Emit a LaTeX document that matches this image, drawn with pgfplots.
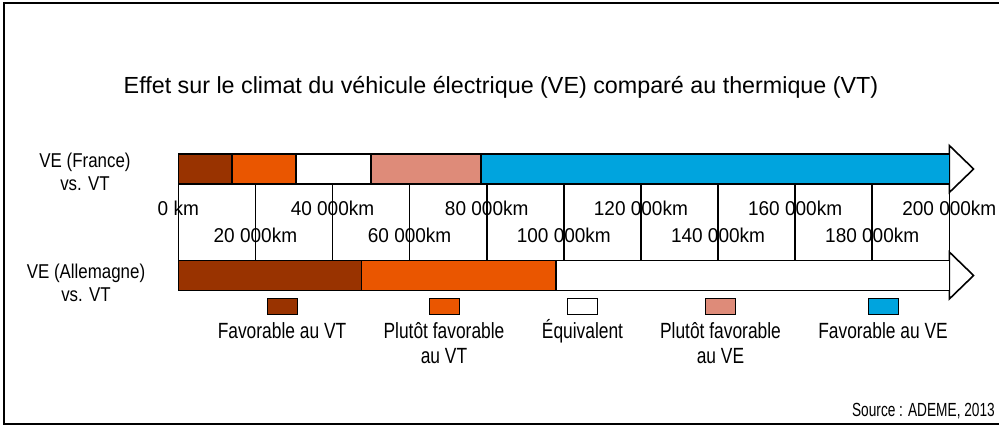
\documentclass[border=0pt]{standalone}
\usepackage{fontspec}
\setmainfont{Liberation Sans}
\newfontfamily\fTick{Liberation Sans}[FakeStretch=0.95]
\newfontfamily\fRow{Liberation Sans}[FakeStretch=0.845]
\newfontfamily\fLeg{Liberation Sans}[FakeStretch=0.79]
\newfontfamily\fSrc{Liberation Sans}[FakeStretch=0.72]
\usepackage{pgfplots}
\pgfplotsset{compat=1.18}
\definecolor{cBrown}{RGB}{153,51,0}
\definecolor{cOrange}{RGB}{234,86,0}
\definecolor{cPink}{RGB}{222,139,121}
\definecolor{cBlue}{RGB}{0,164,222}
\newcommand{\tickf}{\fTick\fontsize{20}{22}\selectfont}
\newcommand{\rowf}{\fRow\fontsize{20}{22}\selectfont}
\newcommand{\legf}{\fLeg\fontsize{22}{24}\selectfont}
\begin{document}
\begin{tikzpicture}[x=1pt,y=1pt]
\useasboundingbox (0,0) rectangle (999,427);
\draw[line width=2pt] (999,424) -- (3.5,424) -- (3.5,2.5) -- (999,2.5);
\node[font=\fontsize{23.3}{27}\selectfont, anchor=base] at (501,333) {Effet sur le climat du véhicule électrique (VE) comparé au thermique (VT)};
\begin{axis}[
  anchor=south west, at={(178.3pt,136.5pt)},
  x=3.855pt, y=1pt,
  xmin=0, xmax=200, ymin=136.5, ymax=273,
  clip=false,
  axis line style={draw=none},
  major tick length=0pt,
  ytick=\empty,
  xtick={0,20,...,200},
  xticklabels={0 km,\raisebox{-27pt}{20 000km},40 000km,\raisebox{-27pt}{60 000km},80 000km,\raisebox{-27pt}{100 000km},120 000km,\raisebox{-27pt}{140 000km},160 000km,\raisebox{-27pt}{180 000km},200 000km},
  xticklabel style={anchor=base, yshift=74.5pt, font=\tickf, inner sep=0pt},
  xmajorgrids,
  grid style={black, line width=1.6pt},
  xbar stacked,
  bar width=30pt,
  every axis plot/.append style={draw=black, line width=1.6pt},
]
\addplot[fill=cBrown]  coordinates {(14,258) (47.5,151.5)};
\addplot[fill=cOrange] coordinates {(16.5,258) (50.5,151.5)};
\addplot[fill=white]   coordinates {(19.5,258) (102,151.5)};
\addplot[fill=cPink]   coordinates {(28.5,258) (0,151.5)};
\addplot[fill=cBlue]   coordinates {(121.5,258) (0,151.5)};
\addplot[stack plots=false, sharp plot, fill=white, draw=black, line width=1.6pt, line join=miter]
  coordinates {(200,281.5) (206.3,258) (200,234.5)} --cycle;
\addplot[stack plots=false, sharp plot, fill=white, draw=black, line width=1.6pt, line join=miter]
  coordinates {(200,175) (206.3,151.5) (200,128)} --cycle;
\end{axis}
% row labels
\node[font=\rowf, anchor=base] at (85,259.3) {VE (France)};
\node[font=\rowf, anchor=base] at (85,236) {vs. VT};
\node[font=\rowf, anchor=base] at (86,148.7) {VE (Allemagne)};
\node[font=\rowf, anchor=base] at (86,125.3) {vs. VT};
% legend
\draw[fill=cBrown, line width=1pt]  (267,112.5) rectangle (297,128.5);
\draw[fill=cOrange, line width=1pt] (429,112.5) rectangle (459,128.5);
\draw[fill=white, line width=1pt]   (567.5,112.5) rectangle (597.5,128.5);
\draw[fill=cPink, line width=1pt]   (705.5,112.5) rectangle (735.5,128.5);
\draw[fill=cBlue, line width=1pt]   (868,112.5) rectangle (898,128.5);
\node[font=\legf, anchor=base] at (282,88) {Favorable au VT};
\node[font=\legf, anchor=base] at (444,88) {Plutôt favorable};
\node[font=\legf, anchor=base] at (444,63) {au VT};
\node[font=\legf, anchor=base] at (582.5,88) {Équivalent};
\node[font=\legf, anchor=base] at (720.5,88) {Plutôt favorable};
\node[font=\legf, anchor=base] at (720.5,63) {au VE};
\node[font=\legf, anchor=base] at (883,88) {Favorable au VE};
\node[font=\fSrc\fontsize{19}{21}\selectfont, anchor=base east, inner sep=0pt] at (995,10.3) {Source : ADEME, 2013};
\end{tikzpicture}
\end{document}
